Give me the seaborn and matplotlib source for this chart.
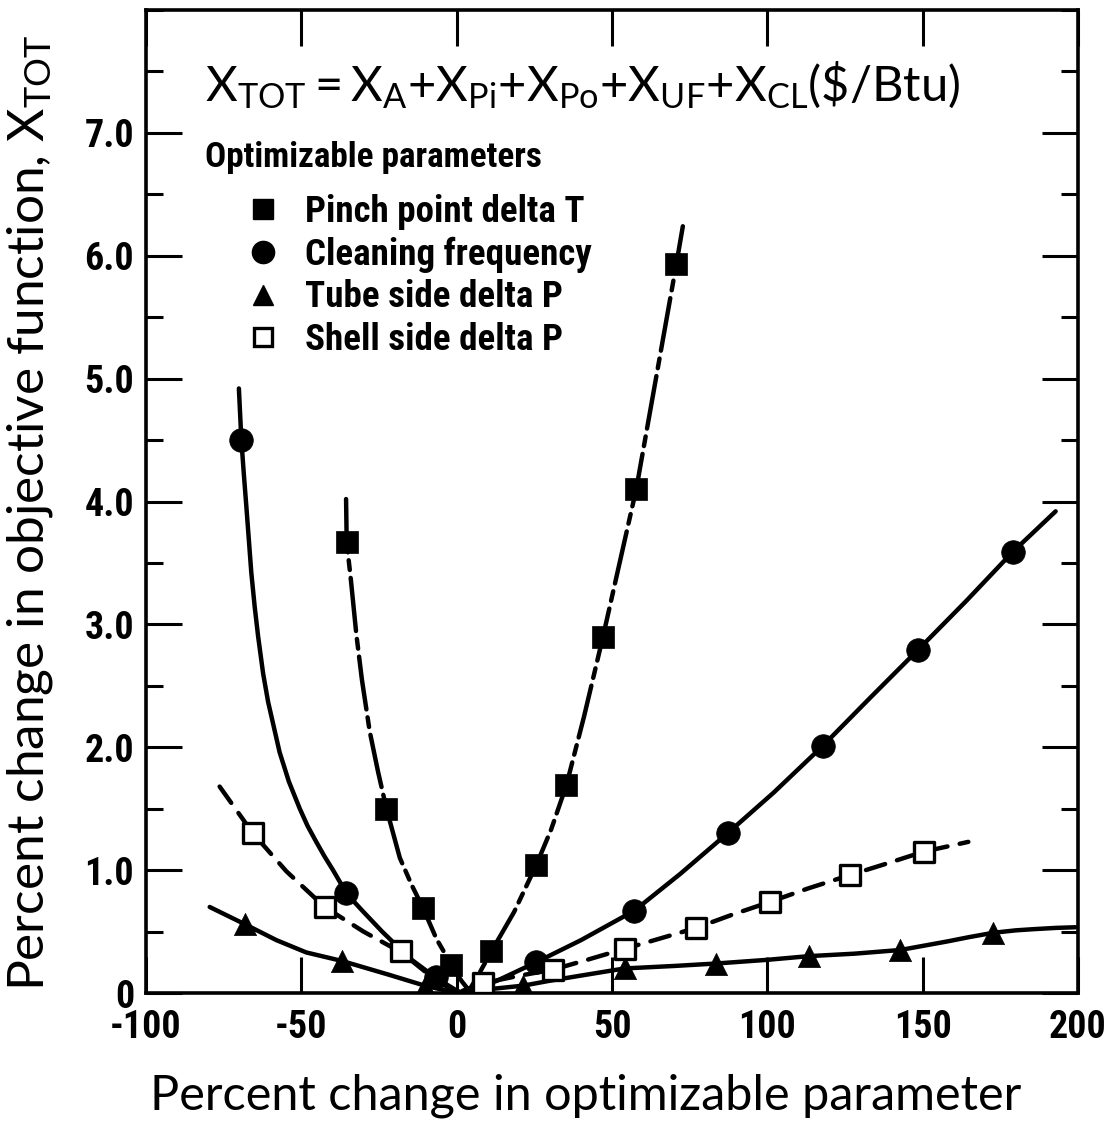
import os
import matplotlib
matplotlib.use("Agg")
import matplotlib.pyplot as plt
import seaborn as sns
import numpy as np
import pandas as pd
from matplotlib.lines import Line2D
from matplotlib.ticker import MultipleLocator, FixedLocator, NullLocator
from matplotlib import font_manager as fm
from matplotlib.textpath import TextPath

# ------------------------------------------------------------------ data
series_names = ["Pinch point delta T", "Cleaning frequency",
                "Tube side delta P", "Shell side delta P"]

# marker points (percent change in parameter, percent change in X_TOT)
pinch_x = [-35.4, -22.6, -10.8, -1.7, 11.2, 25.6, 35.3, 47.1, 57.8, 70.7]
pinch_y = [3.67, 1.50, 0.69, 0.23, 0.34, 1.04, 1.69, 2.90, 4.10, 5.93]

clean_x = [-69.3, -35.5, -6.5, 25.6, 57.2, 87.2, 117.8, 148.4, 179.0]
clean_y = [4.50, 0.81, 0.13, 0.25, 0.67, 1.30, 2.01, 2.79, 3.59]

tube_x = [-68.2, -36.8, -10.3, 21.5, 54.1, 83.5, 113.4, 142.8, 172.7]
tube_y = [0.56, 0.26, 0.05, 0.06, 0.20, 0.24, 0.30, 0.35, 0.49]

shell_x = [-65.6, -42.5, -17.8, 8.5, 31.0, 54.1, 77.1, 100.7, 126.6, 150.3]
shell_y = [1.30, 0.70, 0.34, 0.08, 0.19, 0.36, 0.53, 0.74, 0.96, 1.15]

# hand-drawn fitted curves
pinch_curve_x = [-35.6, -35.4, -34.0, -32.3, -30.5, -28.0, -25.3, -22.6, -18.3,
                 -14.5, -10.8, -6.5, -1.7, 1.5, 4.0, 7.5, 11.2, 18.5, 25.6,
                 30.4, 35.3, 41.0, 47.1, 52.0, 57.8, 64.0, 70.7, 72.8]
pinch_curve_y = [4.02, 3.67, 3.35, 2.92, 2.55, 2.13, 1.80, 1.50, 1.10,
                 0.88, 0.69, 0.44, 0.23, 0.10, 0.02, 0.17, 0.34, 0.66, 1.04,
                 1.33, 1.69, 2.25, 2.90, 3.45, 4.10, 4.98, 5.93, 6.24]

clean_curve_x = [-70.1, -69.3, -68.5, -67.7, -66.1, -65.0, -63.9, -62.3, -60.7,
                 -57.0, -54.0, -50.5, -48.0, -45.2, -42.5, -39.8, -37.5, -35.5,
                 -30.0, -24.0, -15.0, -6.5, 0.0, 2.0, 13.0, 25.6, 40.0,
                 57.2, 72.0, 87.2, 102.0, 117.8, 133.0, 148.4, 164.0, 179.0, 192.8]
clean_curve_y = [4.92, 4.50, 4.22, 3.96, 3.42, 3.14, 2.90, 2.60, 2.37,
                 1.96, 1.72, 1.50, 1.36, 1.23, 1.11, 1.00, 0.90, 0.81,
                 0.66, 0.50, 0.28, 0.12, 0.02, 0.0, 0.10, 0.25, 0.43,
                 0.67, 0.97, 1.30, 1.63, 2.01, 2.40, 2.79, 3.19, 3.59, 3.92]

tube_curve_x = [-79.5, -68.2, -58.0, -48.4, -36.8, -22.0, -10.3, 0.0, 10.0,
                21.5, 30.0, 42.0, 54.1, 70.0, 83.5, 100.0, 113.4, 128.0,
                142.8, 158.0, 165.0, 172.7, 180.0, 186.0, 193.0, 199.2]
tube_curve_y = [0.70, 0.56, 0.43, 0.33, 0.26, 0.15, 0.06, 0.0, 0.03,
                0.06, 0.10, 0.15, 0.20, 0.22, 0.24, 0.27, 0.30, 0.32,
                0.35, 0.42, 0.455, 0.49, 0.51, 0.52, 0.53, 0.535]

shell_curve_x = [-76.3, -65.6, -54.8, -42.5, -30.0, -17.8, -8.0, 0.0, 8.5,
                 20.0, 31.0, 42.0, 54.1, 65.0, 77.1, 89.0, 100.7, 113.0,
                 126.6, 138.0, 150.3, 164.7]
shell_curve_y = [1.68, 1.30, 0.99, 0.70, 0.50, 0.33, 0.13, 0.0, 0.08,
                 0.14, 0.19, 0.27, 0.36, 0.44, 0.53, 0.64, 0.74, 0.85,
                 0.96, 1.05, 1.15, 1.23]

x_ticks = [-100, -50, 0, 50, 100, 150, 200]
x_tick_labels = ["-100", "-50", "0", "50", "100", "150", "200"]
y_ticks = [0, 1, 2, 3, 4, 5, 6, 7]
y_tick_labels = ["0", "1.0", "2.0", "3.0", "4.0", "5.0", "6.0", "7.0"]

# ------------------------------------------------------------------ fonts
def find_font(patterns):
    files = [f.fname for f in fm.fontManager.ttflist]
    for pat in patterns:
        for fn in sorted(files):
            b = os.path.basename(fn).lower().replace("-", "").replace("_", "").replace(" ", "")
            if "italic" in b or "oblique" in b:
                continue
            if all(p in b for p in pat):
                return fn
    return None

narrow_file = find_font([
    ("liberationsansnarrow", "bold"),
    ("arialnarrow", "bold"),
    ("notosans", "extracondensedbold"),
    ("notosans", "condensedbold"),
    ("robotocondensed", "bold"),
    ("opensans", "condensedbold"),
    ("dejavusanscondensed", "bold"),
])
if narrow_file:
    FP_N = fm.FontProperties(fname=narrow_file)
else:
    FP_N = fm.FontProperties(family="DejaVu Sans", weight="bold")


def fit_size(text, fp, width_px, cap_px, slack=1.0):
    """font size (pt) so that text is about width_px wide, capped by cap height."""
    tp = TextPath((0, 0), text, size=100, prop=fp)
    w = tp.get_extents().width
    h = TextPath((0, 0), "H", size=100, prop=fp).get_extents().height
    s_w = 100 * (width_px * 0.72) / w
    s_h = 100 * (cap_px * 0.72) / h
    return min(s_w * slack, s_h)


def fp_sized(size):
    p = FP_N.copy()
    p.set_size(size)
    return p

tick_size = fit_size("100", FP_N, 42, 27, slack=1.3)
leg_size = fit_size("Pinch point delta T", FP_N, 268, 29, slack=1.03)
title_size = fit_size("Optimizable parameters", FP_N, 347, 25)

# ------------------------------------------------------------------ style
sns.set_theme(style="white")
plt.rcParams["font.family"] = ["Lato", "DejaVu Sans"]
plt.rcParams["mathtext.fontset"] = "custom"
plt.rcParams["mathtext.rm"] = "Lato"
plt.rcParams["mathtext.it"] = "Lato"
plt.rcParams["mathtext.bf"] = "Lato"

LW = 3.2
fig = plt.figure(figsize=(11.11, 11.22), dpi=100)
ax = fig.add_axes([146 / 1111, 129 / 1122, 932 / 1111, 983 / 1122])
ax.set_facecolor("white")

curves = [
    (pinch_curve_x, pinch_curve_y, (0, (12, 1.8, 2.2, 1.8))),
    (clean_curve_x, clean_curve_y, "-"),
    (tube_curve_x, tube_curve_y, "-"),
    (shell_curve_x, shell_curve_y, (0, (4.5, 2.8))),
]
for cx, cy, ls in curves:
    df = pd.DataFrame({"x": cx, "y": cy})
    sns.lineplot(data=df, x="x", y="y", sort=False, estimator=None,
                 color="black", linewidth=LW, linestyle=ls, ax=ax,
                 solid_capstyle="round", dash_capstyle="round",
                 solid_joinstyle="round")

sns.scatterplot(x=pinch_x, y=pinch_y, marker="s", s=16.5 ** 2, color="black",
                edgecolor="black", linewidth=0.5, ax=ax, zorder=5)
sns.scatterplot(x=clean_x, y=clean_y, marker="o", s=17 ** 2, color="black",
                edgecolor="black", linewidth=0.5, ax=ax, zorder=5)
sns.scatterplot(x=tube_x, y=tube_y, marker="^", s=16 ** 2, color="black",
                edgecolor="black", linewidth=0.5, ax=ax, zorder=5)
sns.scatterplot(x=shell_x, y=shell_y, marker="s", s=14.5 ** 2, color="white",
                edgecolor="black", linewidth=2.4, ax=ax, zorder=6)

ax.set_xlim(-100, 200)
ax.set_ylim(0, 8)

ax.xaxis.set_major_locator(FixedLocator(x_ticks))
ax.set_xticklabels(x_tick_labels)
ax.yaxis.set_major_locator(FixedLocator(y_ticks))
ax.set_yticklabels(y_tick_labels)
ax.yaxis.set_minor_locator(MultipleLocator(0.5))
ax.xaxis.set_minor_locator(NullLocator())

ax.tick_params(which="major", direction="in", length=26, width=2.2,
               top=True, right=True, bottom=True, left=True,
               color="black", labelcolor="black")
ax.tick_params(axis="x", which="major", pad=11.5)
ax.tick_params(axis="y", which="major", pad=8.5)
ax.tick_params(which="minor", direction="in", length=12, width=2.2,
               left=True, right=True, color="black")
for lbl in ax.get_xticklabels() + ax.get_yticklabels():
    lbl.set_fontproperties(fp_sized(tick_size))

for sp in ax.spines.values():
    sp.set_visible(True)
    sp.set_linewidth(2.6)
    sp.set_color("black")

ax.set_xlabel("Percent change in optimizable parameter", fontfamily="Lato",
              fontweight="normal", fontsize=35, color="black", va="top")
ax.xaxis.set_label_coords(0.472, -0.082)
ax.set_ylabel(r"Percent change in objective function, $\mathrm{X_{TOT}}$",
              fontfamily="Lato", fontweight="normal", fontsize=37, color="black")
ax.yaxis.set_label_coords(-0.098, 0.488)

# formula
ax.text(0.0633, 0.9084,
        r"$\mathrm{X_{TOT}{=}X_{A}{+}X_{Pi}{+}X_{Po}{+}X_{UF}{+}X_{CL}}$(\$/Btu)",
        transform=ax.transAxes, fontfamily="Lato", fontweight="normal",
        fontsize=35.2, va="baseline", ha="left", color="black")

# legend
ax.text(0.0633, 0.840, "Optimizable parameters", transform=ax.transAxes,
        fontproperties=fp_sized(title_size), va="baseline", ha="left",
        color="black")
handles = [
    Line2D([], [], marker="s", ls="none", color="black", markersize=15),
    Line2D([], [], marker="o", ls="none", color="black", markersize=16),
    Line2D([], [], marker="^", ls="none", color="black", markersize=15),
    Line2D([], [], marker="s", ls="none", markerfacecolor="white",
           markeredgecolor="black", markeredgewidth=2.4, markersize=13),
]
leg_px = leg_size * 100 / 72


def make_legend(spacing):
    lg = ax.legend(handles, series_names, loc="center left",
                   bbox_to_anchor=((240 - 146) / 932, (993 - 276) / 983),
                   frameon=False, prop=fp_sized(leg_size),
                   handlelength=46 / leg_px, handletextpad=19 / leg_px,
                   labelspacing=spacing, borderpad=0, borderaxespad=0)
    for t in lg.get_texts():
        t.set_color("black")
    return lg

ls0 = 0.2
leg = make_legend(ls0)
fig.canvas.draw()
rend = fig.canvas.get_renderer()
ys = [t.get_window_extent(rend).y0 for t in leg.get_texts()]
row_gap = (ys[0] - ys[-1]) / 3.0
leg.remove()
leg = make_legend(max(0.0, ls0 + (42.7 - row_gap) / leg_px))

fig.savefig("out.png", dpi=100, facecolor="white")
